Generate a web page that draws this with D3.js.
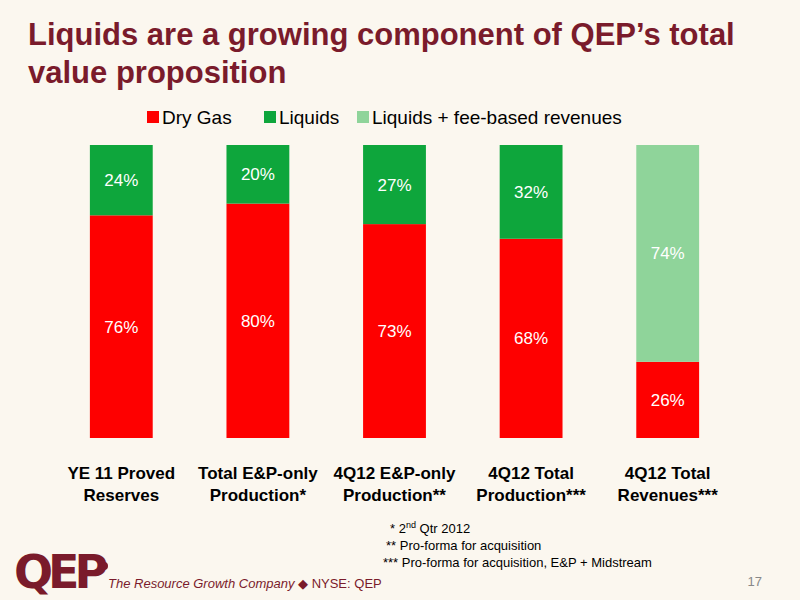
<!DOCTYPE html>
<html><head><meta charset="utf-8">
<script src="https://cdn.jsdelivr.net/npm/d3@7"></script>
<style>body{margin:0;background:#fbf7ef}</style>
</head><body>
<svg id="chart" width="800" height="600"></svg>
<script>
// data
const categories = [
  ["YE 11 Proved", "Reserves"],
  ["Total E&P-only", "Production*"],
  ["4Q12 E&P-only", "Production**"],
  ["4Q12 Total", "Production***"],
  ["4Q12 Total", "Revenues***"]
];
const dryGas = [76, 80, 73, 68, 26];
const liquids = [24, 20, 27, 32, 0];
const liquidsFee = [0, 0, 0, 0, 74];
const seriesNames = ["Dry Gas", "Liquids", "Liquids + fee-based revenues"];
const seriesColors = ["#fe0000", "#0ea63c", "#8fd49a"];
const footnotes = [
  ["* 2", "nd", " Qtr 2012"],
  ["** Pro-forma for acquisition"],
  ["*** Pro-forma for acquisition, E&P + Midstream"]
];

const font = "Arial, Liberation Sans, sans-serif";
const svg = d3.select("#chart");
svg.append("rect").attr("width", 800).attr("height", 600).attr("fill", "#fbf7ef");

// title
const title = svg.append("text").attr("font-family", font)
  .attr("font-weight", "bold").attr("font-size", 31).attr("fill", "#7a1b2b");
title.append("tspan").attr("x", 28).attr("y", 45).text("Liquids are a growing component of QEP\u2019s total");
title.append("tspan").attr("x", 28).attr("y", 83).text("value proposition");

// stacked layout
const rows = categories.map((c, i) => ({i, dry: dryGas[i], liq: liquids[i], fee: liquidsFee[i]}));
const stack = d3.stack().keys(["dry", "liq", "fee"])(rows);

const x = d3.scaleBand().domain(d3.range(categories.length)).range([53, 736]).paddingInner(0.54).paddingOuter(0.27);
const y = d3.scaleLinear().domain([0, 100]).range([438, 145]);

const g = svg.append("g");
stack.forEach((layer, k) => {
  layer.forEach((d, i) => {
    const v = d[1] - d[0];
    if (v <= 0) return;
    g.append("rect").attr("x", x(i)).attr("width", x.bandwidth())
      .attr("y", y(d[1])).attr("height", y(d[0]) - y(d[1]))
      .attr("fill", seriesColors[k]);
    g.append("text").attr("x", x(i) + x.bandwidth() / 2).attr("y", (y(d[0]) + y(d[1])) / 2 + 6)
      .attr("text-anchor", "middle").attr("fill", "#fff")
      .attr("font-family", font).attr("font-size", 17)
      .text(v + "%");
  });
});

// category labels
categories.forEach((c, i) => {
  const t = svg.append("text").attr("text-anchor", "middle")
    .attr("font-family", font).attr("font-weight", "bold")
    .attr("font-size", 17).attr("fill", "#000");
  c.forEach((line, j) => t.append("tspan").attr("x", x(i) + x.bandwidth() / 2).attr("y", 479 + j * 22).text(line));
});

// legend
const legendX = [147, 264, 357];
seriesNames.forEach((n, k) => {
  svg.append("rect").attr("x", legendX[k]).attr("y", 111).attr("width", 12).attr("height", 12).attr("fill", seriesColors[k]);
  svg.append("text").attr("x", legendX[k] + 15).attr("y", 124)
    .attr("font-family", font).attr("font-size", 19).text(n);
});

// footnotes
footnotes.forEach((parts, j) => {
  const t = svg.append("text").attr("x", [390, 386, 383][j]).attr("y", 533 + j * 17)
    .attr("font-family", font).attr("font-size", 13);
  parts.forEach((p, m) => {
    const s = t.append("tspan").text(p);
    if (m === 1) s.attr("font-size", 9).attr("dy", -5);
    if (m === 2) s.attr("dy", 5);
  });
});

// page number
svg.append("text").attr("x", 762).attr("y", 586).attr("text-anchor", "end")
  .attr("font-family", font).attr("font-size", 13).attr("fill", "#888").text("17");

// logo
svg.append("text").attr("x", 14).attr("y", 588).attr("font-family", "DejaVu Sans, sans-serif")
  .attr("font-weight", "900").attr("font-size", 46).attr("fill", "#7a1b2b").attr("letter-spacing", -5).text("QEP");
svg.append("circle").attr("cx", 104).attr("cy", 566).attr("r", 4).attr("fill", "#7a1b2b");
const tag = svg.append("text").attr("x", 108).attr("y", 588).attr("font-family", font)
  .attr("font-size", 13).attr("fill", "#7a1b2b");
tag.append("tspan").attr("font-style", "italic").text("The Resource Growth Company ");
tag.append("tspan").text("\u25C6 NYSE: QEP");
</script>
</body></html>
